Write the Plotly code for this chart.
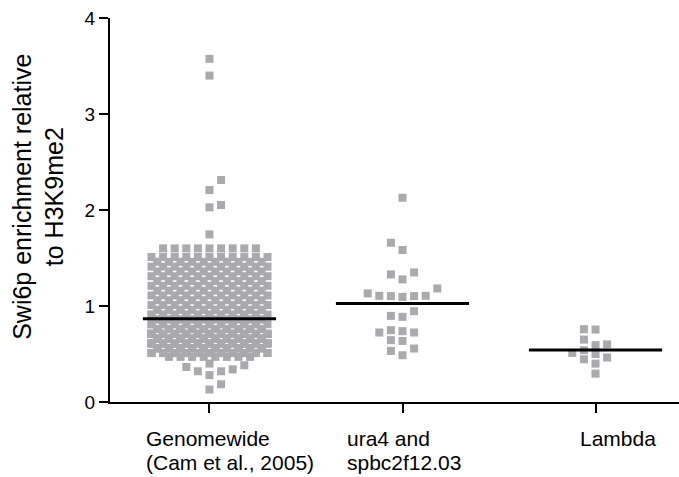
import plotly.graph_objects as go

# ---- data -----------------------------------------------------------------
CATEGORIES = ["Genomewide", "ura4 and spbc2f12.03", "Lambda"]
CATEGORY_LINES = [["Genomewide", "(Cam et al., 2005)"],
                  ["ura4 and", "spbc2f12.03"],
                  ["Lambda"]]

# Genome-wide loci: enrichment level and number of loci at that level
GENOME_LEVELS = [3.575, 3.40, 2.313, 2.209, 2.052, 2.028, 1.746,
                 1.60, 1.51, 1.46, 1.41, 1.36, 1.31, 1.26, 1.21, 1.16, 1.11, 1.06, 1.01,
                 0.96, 0.91, 0.86, 0.81,
                 0.76, 0.71, 0.66, 0.61, 0.56, 0.51,
                 0.47,
                 0.40, 0.383, 0.365, 0.34, 0.32, 0.28, 0.185, 0.13]
GENOME_COUNTS = [1, 1, 1, 1, 1, 1, 1,
                 9, 11, 10, 11, 10, 11, 10, 11, 10, 11, 10, 11,
                 20, 21, 20, 21,
                 46, 45, 46, 45, 46, 25,
                 8,
                 1, 1, 1, 1, 2, 1, 1, 1]

URA4_VALUES = [2.128, 1.659, 1.583, 1.350, 1.329, 1.277, 1.183, 1.131,
               1.106, 1.106, 1.103, 1.103, 1.095, 0.946, 0.897, 0.887,
               0.748, 0.738, 0.724, 0.724, 0.644, 0.636, 0.557, 0.532, 0.487]

LAMBDA_VALUES = [0.758, 0.755, 0.65, 0.60, 0.592, 0.539, 0.511, 0.50,
                 0.463, 0.445, 0.40, 0.296]

# ---- layout helpers ---------------------------------------------------------
PITCH = 0.0601          # horizontal step between neighbouring points (axis units)
MAX_WIDTH = 11          # widest row of the genome-wide cloud
BODY = (0.45, 1.65)     # levels drawn as packed rows


def slot_order(first=1, n=6):
    order = [0]
    for k in range(1, n):
        order += [first * k, -first * k]
    return order


def greedy_swarm(values, gap, first=-1):
    """Place points bottom-up in the nearest free column."""
    cols = {}
    placed = []
    order = slot_order(first)
    for v in sorted(values):
        choice = None
        for s in order:
            if all(abs(v - u) >= gap for u in cols.get(s, [])):
                choice = s
                break
        if choice is None:
            choice = max(order,
                         key=lambda s: min([abs(v - u) for u in cols.get(s, [])] or [9]))
        cols.setdefault(choice, []).append(v)
        placed.append((choice * PITCH, v))
    return placed


def genome_layout(levels, counts):
    pts, loose = [], []
    for v, n in zip(levels, counts):
        if BODY[0] <= v <= BODY[1]:
            w = n if n <= MAX_WIDTH else (MAX_WIDTH if n % 2 else MAX_WIDTH - 1)
            for k in range(n):
                slot = k % w
                pts.append(((slot - (w - 1) / 2) * PITCH, v))
        else:
            loose += [v] * n
    return pts + greedy_swarm(loose, 0.11, first=1)


groups = [
    genome_layout(GENOME_LEVELS, GENOME_COUNTS),
    greedy_swarm(URA4_VALUES, 0.09),
    greedy_swarm(LAMBDA_VALUES, 0.09),
]

POINT_COLOR = "#a9a9ae"
FONT = "Liberation Sans, Arial, sans-serif"

fig = go.Figure()

for i, pts in enumerate(groups):
    fig.add_trace(go.Scatter(
        x=[i + dx for dx, _ in pts],
        y=[v for _, v in pts],
        mode="markers",
        marker=dict(symbol="square", size=8, color=POINT_COLOR, line=dict(width=0)),
        hoverinfo="y",
        name=CATEGORIES[i],
    ))

# mean bars
HALF = 0.345
for i, pts in enumerate(groups):
    mean = sum(v for _, v in pts) / len(pts)
    fig.add_trace(go.Scatter(
        x=[i - HALF, i + HALF], y=[mean, mean],
        mode="lines", line=dict(color="black", width=3),
        hoverinfo="skip", showlegend=False,
    ))

# category labels (left-aligned lines below each tick)
LABEL_SHIFT = [-65, -58, -18]
LINE_Y = [-0.094, -0.157]
for i, lines in enumerate(CATEGORY_LINES):
    for j, text in enumerate(lines):
        fig.add_annotation(
            x=i, y=LINE_Y[j], xref="x", yref="paper",
            text=text, showarrow=False, xanchor="left", yanchor="middle",
            xshift=LABEL_SHIFT[i], align="left",
            font=dict(family=FONT, size=21, color="black"),
        )

fig.add_annotation(
    x=-0.125, y=0.534, xref="paper", yref="paper",
    text="Swi6p enrichment relative<br>to H3K9me2",
    textangle=-90, showarrow=False, xanchor="center", yanchor="middle",
    font=dict(family=FONT, size=25, color="black"),
)

fig.update_xaxes(
    range=[-0.5155, 2.4326], tickvals=[0, 1, 2], showticklabels=False,
    ticks="outside", ticklen=9, tickwidth=2, tickcolor="black",
    showline=True, linewidth=2, linecolor="black",
    showgrid=False, zeroline=False,
)
fig.update_yaxes(
    range=[0, 4], tickvals=[0, 1, 2, 3, 4],
    ticks="outside", ticklen=9, tickwidth=2, tickcolor="black",
    showline=True, linewidth=2, linecolor="black",
    showgrid=False, zeroline=False,
    tickfont=dict(family=FONT, size=19, color="black"),
)
fig.update_layout(
    width=679, height=477,
    margin=dict(l=110, r=0, t=18, b=75),
    plot_bgcolor="white", paper_bgcolor="white",
    showlegend=False,
)

fig.write_html("out.html")
